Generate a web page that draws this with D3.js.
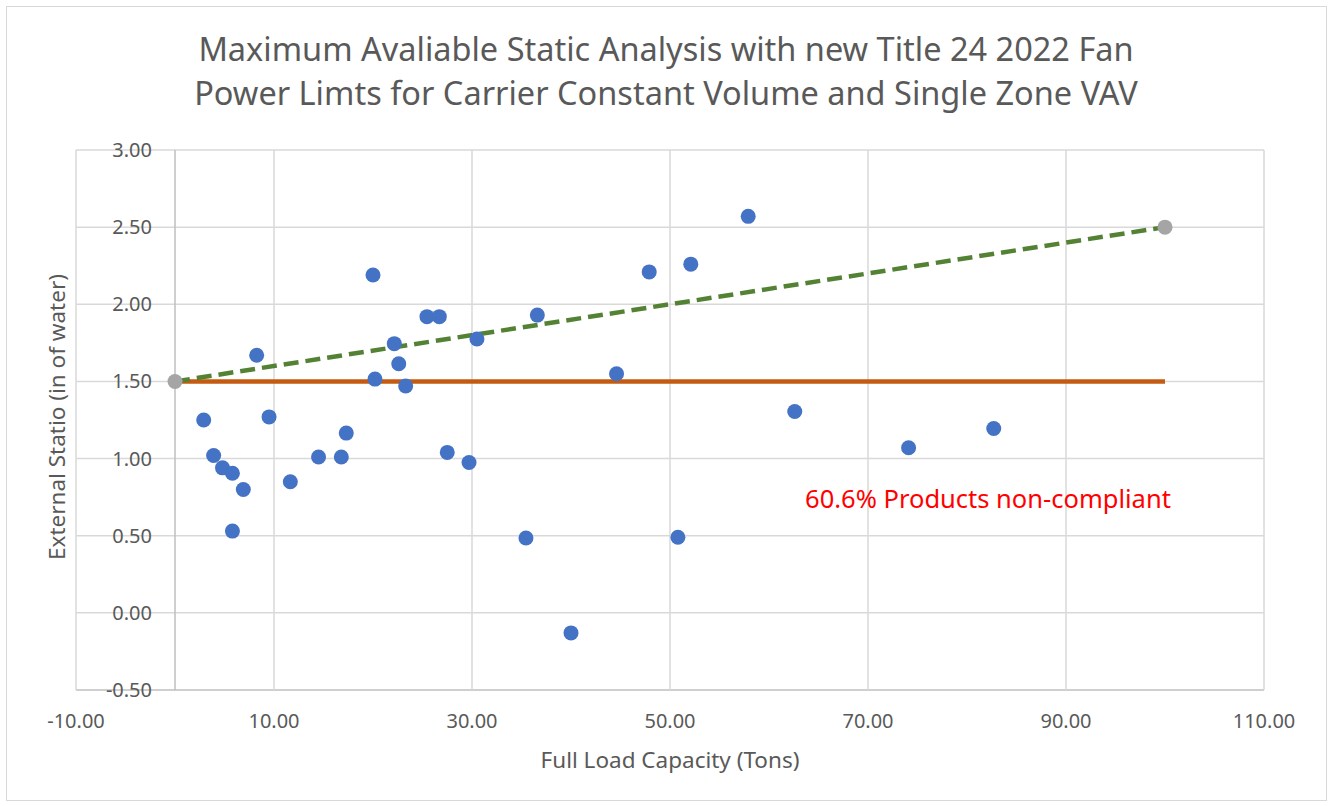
<!DOCTYPE html>
<html>
<head>
<meta charset="utf-8">
<script src="https://cdn.jsdelivr.net/npm/d3@7"></script>
<style>
  body { margin: 0; background: #fff; }
  text { font-family: "Noto Sans", "Open Sans", sans-serif; }
</style>
</head>
<body>
<svg id="chart"></svg>
<script>
// product data: full load capacity (tons) vs external static (in of water)
const capacity = [2.9, 3.9, 4.8, 5.8, 6.9, 5.8, 8.25, 9.5, 11.65, 14.5, 16.8, 17.3,
  20.0, 20.2, 22.15, 22.6, 23.3, 25.45, 26.7, 27.5, 29.7, 30.5,
  36.6, 35.45, 40.0, 44.6, 47.9, 50.8, 52.1, 57.9, 62.6, 74.1, 82.7];
const staticPressure = [1.25, 1.02, 0.94, 0.905, 0.80, 0.53, 1.67, 1.27, 0.85, 1.01, 1.01, 1.165,
  2.19, 1.515, 1.745, 1.615, 1.47, 1.92, 1.92, 1.04, 0.975, 1.775,
  1.93, 0.485, -0.13, 1.55, 2.21, 0.49, 2.26, 2.57, 1.305, 1.07, 1.195];

// reference lines
const limitX = [0, 100], limitY = [1.5, 1.5];
const allowX = [0, 100], allowY = [1.5, 2.5];

const xTicks = [-10, 10, 30, 50, 70, 90, 110];
const yTicks = [-0.5, 0, 0.5, 1, 1.5, 2, 2.5, 3];

const width = 1332, height = 806;
const svg = d3.select("#chart").attr("width", width).attr("height", height);

svg.append("rect")
  .attr("x", 6.5).attr("y", 6.5).attr("width", 1320).attr("height", 794)
  .attr("fill", "#fff").attr("stroke", "#d9d9d9");

const x = d3.scaleLinear().domain([-10, 110]).range([76, 1264]);
const y = d3.scaleLinear().domain([-0.5, 3]).range([690, 150]);
const fmt = d => d.toFixed(2);

// gridlines
svg.append("g").selectAll("line.h")
  .data(yTicks).enter().append("line")
    .attr("x1", x(-10)).attr("x2", x(110))
    .attr("y1", d => y(d)).attr("y2", d => y(d))
    .attr("stroke", d => d === -0.5 ? "#bfbfbf" : "#d9d9d9").attr("stroke-width", 1.5);

svg.append("g").selectAll("line.v")
  .data(xTicks.concat([0])).enter().append("line")
    .attr("x1", d => x(d)).attr("x2", d => x(d))
    .attr("y1", y(3)).attr("y2", y(-0.5))
    .attr("stroke", d => d === 0 ? "#bfbfbf" : "#d9d9d9").attr("stroke-width", 1.5);

// tick labels
svg.append("g").selectAll("text")
  .data(yTicks).enter().append("text")
    .attr("x", 152).attr("y", d => y(d)).attr("dy", "0.35em")
    .attr("text-anchor", "end").attr("font-size", 20).attr("fill", "#595959")
    .text(fmt);

svg.append("g").selectAll("text")
  .data(xTicks).enter().append("text")
    .attr("x", d => x(d)).attr("y", 728)
    .attr("text-anchor", "middle").attr("font-size", 20).attr("fill", "#595959")
    .text(fmt);

// axis titles
svg.append("text")
  .attr("x", 670).attr("y", 768).attr("text-anchor", "middle")
  .attr("font-size", 22.5).attr("fill", "#595959")
  .text("Full Load Capacity (Tons)");

svg.append("text")
  .attr("transform", "translate(65,417) rotate(-90)").attr("text-anchor", "middle")
  .attr("font-size", 22.5).attr("fill", "#595959")
  .text("External Statio (in of water)");

// title
const title = svg.append("text").attr("text-anchor", "middle")
  .attr("font-size", 32.5).attr("fill", "#595959");
title.append("tspan").attr("x", 666).attr("y", 61)
  .text("Maximum Avaliable Static Analysis with new Title 24 2022 Fan");
title.append("tspan").attr("x", 666).attr("y", 105)
  .text("Power Limts for Carrier Constant Volume and Single Zone VAV");

// lines
const line = d3.line().x(d => x(d[0])).y(d => y(d[1]));

svg.append("path")
  .datum(d3.zip(limitX, limitY))
  .attr("d", line).attr("fill", "none")
  .attr("stroke", "#C55A11").attr("stroke-width", 4.5);

svg.append("path")
  .datum(d3.zip(allowX, allowY))
  .attr("d", line).attr("fill", "none")
  .attr("stroke", "#548235").attr("stroke-width", 4.5)
  .attr("stroke-dasharray", "15,7");

// line end markers
svg.append("g").selectAll("circle")
  .data(d3.zip(allowX, allowY)).enter().append("circle")
    .attr("cx", d => x(d[0])).attr("cy", d => y(d[1])).attr("r", 7.5)
    .attr("fill", "#A5A5A5");

// products
svg.append("g").selectAll("circle")
  .data(d3.zip(capacity, staticPressure)).enter().append("circle")
    .attr("cx", d => x(d[0])).attr("cy", d => y(d[1])).attr("r", 7.5)
    .attr("fill", "#4472C4");

// annotation
svg.append("text")
  .attr("x", 988).attr("y", 508).attr("text-anchor", "middle")
  .attr("font-size", 25.5).attr("fill", "#FF0000")
  .text("60.6% Products non-compliant");
</script>
</body>
</html>
